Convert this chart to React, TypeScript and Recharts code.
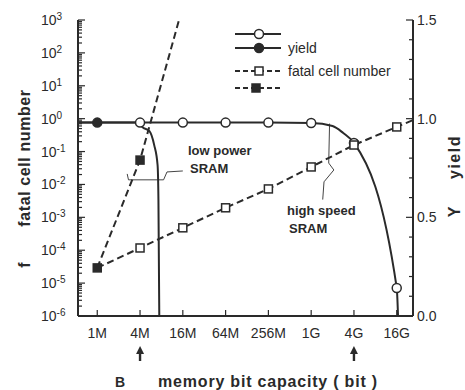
import { Line, LineChart, ReferenceLine, XAxis, YAxis } from 'recharts'

const INK = '#2a2a2a'
const FONT = '"Liberation Sans", Arial, sans-serif'

// x positions are category indexes (0 = 1M ... 7 = 16G)
const capacities = ['1M', '4M', '16M', '64M', '256M', '1G', '4G', '16G']
const arrowAt = ['4M', '4G']

// yield, high speed SRAM (open circles)
const hsYieldX = [-0.5, 0, 1, 2, 3, 4, 5, 5.5, 5.75, 6, 7, 7.03]
const hsYieldY = [0.98, 0.98, 0.98, 0.98, 0.98, 0.98, 0.978, 0.963, 0.927, 0.877, 0.142, 0]
const hsYieldMark = [false, false, true, true, true, true, true, false, false, true, true, false]

// yield, low power SRAM (filled circles)
const lpYieldX = [-0.5, 0, 1, 1.05, 1.22, 1.33, 1.41, 1.43, 1.45]
const lpYieldY = [0.98, 0.98, 0.98, 0.958, 0.937, 0.867, 0.765, 0.588, 0]
const lpYieldMark = [false, true, false, false, false, false, false, false, false]

// fatal cell number, high speed (open squares)
const hsFatalX = [0, 1, 2, 3, 4, 5, 6, 7, 7.5]
const hsFatalY = [2.9e-5, 1.17e-4, 4.8e-4, 1.95e-3, 7.3e-3, 0.034, 0.158, 0.56, 1.05]
const hsFatalMark = [false, true, true, true, true, true, true, true, false]

// fatal cell number, low power (filled squares)
const lpFatalX = [0, 1, 2]
const lpFatalY = [2.9e-5, 0.055, 2600]
const lpFatalMark = [true, true, false]

// axis ticks
const decadeExp = [-6, -5, -4, -3, -2, -1, 0, 1, 2, 3]
const yieldTicks = [0, 1, 2, 3, 4, 5, 6, 7, 8, 9, 10, 11, 12, 13, 14, 15].map((i) => i / 10)

// annotation brackets (right axis units)
const lowPowerNote = [
  [0.7, 0.72, 0.73, 0.69],
  [0.73, 0.69, 1.55, 0.69],
  [1.55, 0.69, 1.63, 0.73],
  [1.63, 0.73, 2.0, 0.735],
]
const highSpeedNote = [
  [5.43, 0.975, 5.41, 0.775],
  [5.41, 0.775, 5.53, 0.74],
  [5.53, 0.74, 5.3, 0.68],
  [5.3, 0.68, 5.27, 0.59],
]

type Pt = { x: number; y: number; mark: boolean }
const zip = (xs: number[], ys: number[], ms: boolean[]): Pt[] =>
  xs.map((x, i) => ({ x, y: ys[i], mark: ms[i] }))

const hsYield = zip(hsYieldX, hsYieldY, hsYieldMark)
const lpYield = zip(lpYieldX, lpYieldY, lpYieldMark)
const hsFatal = zip(hsFatalX, hsFatalY, hsFatalMark)
const lpFatal = zip(lpFatalX, lpFatalY, lpFatalMark)

const logTicks: number[] = []
decadeExp.forEach((e) => {
  logTicks.push(10 ** e)
  if (e < 3) for (let k = 2; k <= 9; k++) logTicks.push(k * 10 ** e)
})

function makeDot(shape: 'circle' | 'square', filled: boolean) {
  return (props: any) => {
    const { cx, cy, payload, index } = props
    const key = `${shape}-${filled}-${index}`
    if (!payload?.mark || cx == null || cy == null) return <g key={key} />
    const fill = filled ? INK : '#fff'
    if (shape === 'circle')
      return <circle key={key} cx={cx} cy={cy} r={4.5} fill={fill} stroke={INK} strokeWidth={1.5} />
    return (
      <rect key={key} x={cx - 4} y={cy - 4} width={8} height={8} fill={fill} stroke={INK} strokeWidth={1.5} />
    )
  }
}

function LogTick({ x, y, payload }: any) {
  const v = payload.value
  const e = Math.round(Math.log10(v))
  const major = Math.abs(Math.log10(v) - e) < 1e-6
  return (
    <g>
      <line x1={x} x2={x + (major ? 7 : 4)} y1={y} y2={y} stroke={INK} strokeWidth={1.2} />
      {major && (
        <text x={x - 37} y={y + 5} fontSize={14} fill={INK} fontFamily={FONT} textAnchor="start">
          10
          <tspan fontSize={10} dy={-5}>
            {e}
          </tspan>
        </text>
      )}
    </g>
  )
}

function YieldTick({ x, y, payload }: any) {
  const v = payload.value
  const major = Math.round(v * 10) % 5 === 0
  return (
    <g>
      <line x1={x} x2={x - (major ? 7 : 4)} y1={y} y2={y} stroke={INK} strokeWidth={1.2} />
      {major && (
        <text x={x + 4} y={y + 5} fontSize={14} fill={INK} fontFamily={FONT}>
          {v.toFixed(1)}
        </text>
      )}
    </g>
  )
}

function CapTick({ x, y, payload }: any) {
  const label = capacities[payload.value]
  const arrow = arrowAt.includes(label)
  return (
    <g>
      <line x1={x} x2={x} y1={y} y2={y - 6} stroke={INK} strokeWidth={1.2} />
      <text x={x} y={y + 22} fontSize={14} fill={INK} fontFamily={FONT} textAnchor="middle">
        {label}
      </text>
      {arrow && (
        <g fill={INK}>
          <polygon points={`${x - 4},${y + 38} ${x + 4},${y + 38} ${x},${y + 30}`} />
          <rect x={x - 1.2} y={y + 37} width={2.4} height={8} />
        </g>
      )}
    </g>
  )
}

function TopTick({ x, y }: any) {
  return <line x1={x} x2={x} y1={y} y2={y + 6} stroke={INK} strokeWidth={1.2} />
}

function Overlay() {
  const t = { fontFamily: FONT, fill: INK }
  return (
    <svg
      width={465}
      height={390}
      style={{ position: 'absolute', left: 0, top: 0, pointerEvents: 'none' }}
    >
      {/* legend */}
      <g stroke={INK} strokeWidth={2}>
        <line x1={235} x2={281} y1={34} y2={34} />
        <line x1={235} x2={281} y1={48} y2={48} />
        <line x1={235} x2={281} y1={71} y2={71} strokeDasharray="5 3" />
        <line x1={235} x2={281} y1={88} y2={88} strokeDasharray="5 3" />
      </g>
      <circle cx={259} cy={34} r={4.5} fill="#fff" stroke={INK} strokeWidth={1.5} />
      <circle cx={259} cy={48} r={4.5} fill={INK} stroke={INK} strokeWidth={1.5} />
      <rect x={255} y={67} width={8} height={8} fill="#fff" stroke={INK} strokeWidth={1.5} />
      <rect x={252} y={84} width={8} height={8} fill={INK} stroke={INK} strokeWidth={1.5} />
      <text x={288} y={53} fontSize={14} {...t}>
        yield
      </text>
      <text x={288} y={76} fontSize={14} {...t}>
        fatal cell number
      </text>

      {/* annotations */}
      <g fontSize={13} fontWeight="bold" {...t}>
        <text x={188} y={155}>low power</text>
        <text x={190} y={173}>SRAM</text>
        <text x={287} y={215}>high speed</text>
        <text x={289} y={233}>SRAM</text>
      </g>

      {/* axis titles */}
      <g fontSize={16} fontWeight="bold" {...t}>
        <text transform="rotate(-90 24 158)" x={24} y={158} textAnchor="middle" dominantBaseline="central" letterSpacing={0.6}>
          fatal cell number
        </text>
        <text transform="rotate(-90 24 265)" x={24} y={265} textAnchor="middle" dominantBaseline="central">
          f
        </text>
        <text transform="rotate(-90 454 157)" x={454} y={157} textAnchor="middle" dominantBaseline="central" letterSpacing={1.5}>
          yield
        </text>
        <text transform="rotate(-90 454 212)" x={454} y={212} textAnchor="middle" dominantBaseline="central">
          Y
        </text>
        <text x={115} y={387} fontSize={14}>
          B
        </text>
        <text x={268} y={387} textAnchor="middle" letterSpacing={0.8}>
          memory bit capacity ( bit )
        </text>
      </g>
    </svg>
  )
}

export default function App() {
  const axisLine = { stroke: INK, strokeWidth: 2 }
  const noteStyle = { stroke: '#444', strokeWidth: 1 }
  return (
    <div style={{ position: 'absolute', left: 0, top: 0, width: 465, height: 390, background: '#fff' }}>
      <LineChart width={465} height={390} margin={{ top: 20, right: 0, bottom: 0, left: 0 }}>
        <XAxis
          xAxisId="bottom"
          dataKey="x"
          type="number"
          domain={[-0.45, 7.38]}
          allowDataOverflow
          ticks={capacities.map((_, i) => i)}
          interval={0}
          tick={(p: any) => <CapTick {...p} />}
          tickLine={false}
          tickSize={0}
          tickMargin={0}
          height={74}
          axisLine={axisLine}
        />
        <XAxis
          xAxisId="top"
          orientation="top"
          dataKey="x"
          type="number"
          domain={[-0.45, 7.38]}
          allowDataOverflow
          ticks={capacities.map((_, i) => i)}
          interval={0}
          tick={(p: any) => <TopTick {...p} />}
          tickLine={false}
          tickSize={0}
          tickMargin={0}
          height={0}
          axisLine={axisLine}
        />
        <YAxis
          yAxisId="left"
          type="number"
          scale="log"
          domain={[1e-6, 1e3]}
          allowDataOverflow
          ticks={logTicks}
          interval={0}
          tick={(p: any) => <LogTick {...p} />}
          tickLine={false}
          tickSize={0}
          tickMargin={0}
          width={78}
          axisLine={axisLine}
        />
        <YAxis
          yAxisId="right"
          orientation="right"
          type="number"
          domain={[0, 1.5]}
          allowDataOverflow
          ticks={yieldTicks}
          interval={0}
          tick={(p: any) => <YieldTick {...p} />}
          tickLine={false}
          tickSize={0}
          tickMargin={0}
          width={52}
          axisLine={axisLine}
        />

        {lowPowerNote.concat(highSpeedNote).map((s, i) => (
          <ReferenceLine
            key={`note-${i}`}
            xAxisId="bottom"
            yAxisId="right"
            segment={[
              { x: s[0], y: s[1] },
              { x: s[2], y: s[3] },
            ]}
            style={noteStyle}
            ifOverflow="visible"
          />
        ))}

        <Line
          data={lpYield}
          xAxisId="bottom"
          yAxisId="right"
          dataKey="y"
          type="monotone"
          stroke={INK}
          strokeWidth={2}
          dot={makeDot('circle', true)}
          activeDot={false}
          isAnimationActive={false}
        />
        <Line
          data={hsYield}
          xAxisId="bottom"
          yAxisId="right"
          dataKey="y"
          type="monotone"
          stroke={INK}
          strokeWidth={2}
          dot={makeDot('circle', false)}
          activeDot={false}
          isAnimationActive={false}
        />
        <Line
          data={hsFatal}
          xAxisId="bottom"
          yAxisId="left"
          dataKey="y"
          type="linear"
          stroke={INK}
          strokeWidth={2}
          strokeDasharray="7 4"
          dot={makeDot('square', false)}
          activeDot={false}
          isAnimationActive={false}
        />
        <Line
          data={lpFatal}
          xAxisId="bottom"
          yAxisId="left"
          dataKey="y"
          type="linear"
          stroke={INK}
          strokeWidth={2}
          strokeDasharray="7 4"
          dot={makeDot('square', true)}
          activeDot={false}
          isAnimationActive={false}
        />
      </LineChart>
      <Overlay />
    </div>
  )
}
